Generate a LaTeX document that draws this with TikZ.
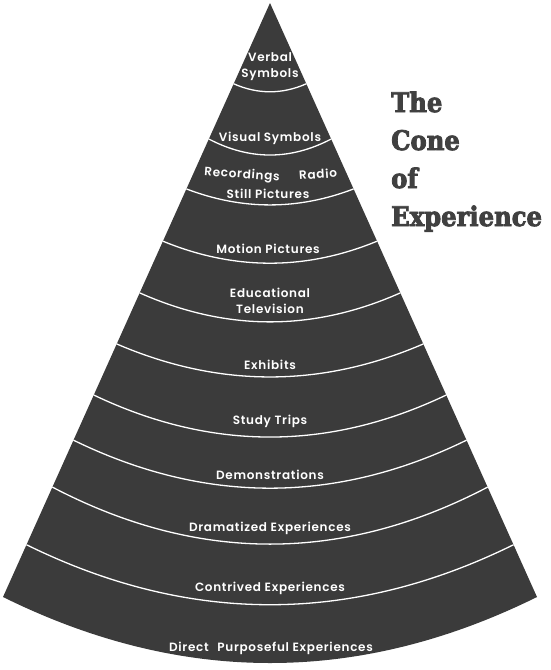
\documentclass[tikz,border=0pt]{standalone}
\usepackage{fontspec}
\usetikzlibrary{calc}
\newfontfamily\conefont{Poppins SemiBold}[LetterSpace=6]
\newfontfamily\titlefont{DejaVu Serif Condensed}[BoldFeatures={FakeBold=3}]
\definecolor{conegray}{HTML}{3B3B3B}
\definecolor{titlegray}{HTML}{404040}
\tikzset{
  band/.style={white, line width=1.3pt},
  lbl/.style={text=white, font=\conefont\fontsize{12}{16}\selectfont, align=center, inner sep=0pt},
  ttl/.style={text=titlegray, font=\titlefont\bfseries\fontsize{27}{38}\selectfont, anchor=base west, inner sep=0pt}
}
\begin{document}
\begin{tikzpicture}[x=1pt,y=-1pt]
            \useasboundingbox (0,0) rectangle (550,670);
            \coordinate (apex) at (270,3);
            \coordinate (bl) at (3,597);
            \coordinate (br) at (537,597);
            % cone body
            \fill[conegray] (apex) -- (bl) .. controls ($(bl)!1/3!(br)+(0,88)$) and ($(bl)!2/3!(br)+(0,88)$) .. (br) -- cycle;
            % white band lines, t along the edges / dip
            \foreach \t/\d in {0.136/8, 0.229/16, 0.313/16, 0.401/22, 0.488/29, 0.574/33, 0.660/42, 0.736/48, 0.815/57, 0.912/60} {
                \coordinate (l) at ($(apex)!\t!(bl)$);
                \coordinate (r) at ($(apex)!\t!(br)$);
                \draw[band] (l) .. controls ($(l)!1/3!(r)+(0,1.333*\d)$) and ($(l)!2/3!(r)+(0,1.333*\d)$) .. (r);
            }
            % labels
            \node[lbl] (verbal) at (270,67) {Verbal\\Symbols};
            \node[lbl] (visual) at (270,138) {Visual Symbols};
            \node[lbl, rotate=-4] (record) at (242,175) {Recordings};
            \node[lbl, rotate=4] (radio) at (318,174) {Radio};
            \node[lbl] (still) at (268,194) {Still Pictures};
            \node[lbl] (motion) at (268,249) {Motion Pictures};
            \node[lbl] (edtv) at (270,301) {Educational\\Television};
            \node[lbl] (exhibits) at (270,365) {Exhibits};
            \node[lbl] (trips) at (270,421) {Study Trips};
            \node[lbl] (demo) at (270,475) {Demonstrations};
            \node[lbl] (drama) at (270,528) {Dramatized Experiences};
            \node[lbl] (contrived) at (270,588) {Contrived Experiences};
            \node[lbl] (direct) at (271,648) {Direct\hspace{5pt} Purposeful Experiences};
            % title
            \node[ttl] (the) at (391,112) {The};
            \node[ttl] (cone) at (391,150) {Cone};
            \node[ttl] (of) at (391,188) {of};
            \node[ttl] (exp) at (391,226) {Experience};
        \end{tikzpicture}
\end{document}
